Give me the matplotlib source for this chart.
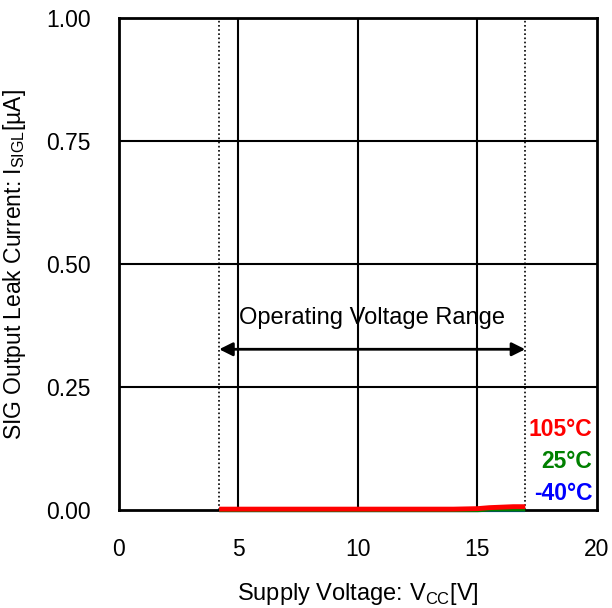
import matplotlib
matplotlib.use("Agg")
import matplotlib.pyplot as plt

plt.rcParams["font.family"] = ["Liberation Sans", "DejaVu Sans"]
plt.rcParams["mathtext.fontset"] = "custom"
plt.rcParams["mathtext.rm"] = "Liberation Sans"

# supply voltage points and leak current per temperature
vcc = [4.2, 6.0, 8.0, 10.0, 12.0, 14.0, 15.0, 15.5, 16.0, 16.5, 17.0]
i_n40 = [0.000, 0.000, 0.000, 0.000, 0.000, 0.000, 0.000, 0.000, 0.000, 0.000, 0.000]
i_25 = [0.000, 0.000, 0.000, 0.000, 0.000, 0.000, 0.000, 0.001, 0.001, 0.001, 0.001]
i_105 = [0.002, 0.002, 0.002, 0.002, 0.002, 0.002, 0.003, 0.005, 0.006, 0.007, 0.007]

temps = ["105°C", "25°C", "-40°C"]
temp_colors = ["#ff0000", "#008000", "#0000ff"]

vmin, vmax = 4.2, 17.0
x_ticks = [0, 5, 10, 15, 20]
y_ticks = [0.00, 0.25, 0.50, 0.75, 1.00]

fig = plt.figure(figsize=(6.12, 6.08), dpi=100)
ax = fig.add_axes([0.194, 0.161, 0.7815, 0.809])

ax.set_xlim(0, 20)
ax.set_ylim(0, 1)
ax.set_xticks(x_ticks)
ax.set_yticks(y_ticks)
ax.set_yticklabels([f"{v:.2f}" for v in y_ticks])
ax.tick_params(length=0, labelsize=16.5, pad=20)
for s in ax.spines.values():
    s.set_linewidth(2)

for x in x_ticks[1:-1]:
    ax.axvline(x, color="black", lw=1.5, zorder=1)
for y in y_ticks[1:-1]:
    ax.axhline(y, color="black", lw=1.5, zorder=1)

for v in (vmin, vmax):
    ax.axvline(v, color="black", lw=1.2, ls=(0, (1, 1.5)), zorder=1)

ax.plot(vcc, i_n40, color=temp_colors[2], lw=3, zorder=3,
        solid_capstyle="butt", clip_on=False)
ax.plot(vcc, i_25, color=temp_colors[1], lw=3, zorder=4,
        solid_capstyle="butt", clip_on=False)
ax.plot(vcc, i_105, color=temp_colors[0], lw=3.5, zorder=5,
        solid_capstyle="butt", clip_on=False)

ax.annotate("", xy=(vmin, 0.327), xytext=(vmax, 0.327),
            arrowprops=dict(arrowstyle="<|-|>", color="black", lw=2,
                            mutation_scale=20, shrinkA=0, shrinkB=0))
ax.text((vmin + vmax) / 2, 0.39, "Operating Voltage Range", ha="center",
        va="center", fontsize=17)

for i, (t, c) in enumerate(zip(temps, temp_colors)):
    ax.text(0.99, 0.163 - i * 0.0645, t, transform=ax.transAxes, ha="right",
            va="center", fontsize=16.5, fontweight="bold", color=c)

ax.set_xlabel(r"Supply Voltage: V$_{\mathregular{CC}}$[V]", fontsize=17)
ax.set_ylabel(r"SIG Output Leak Current: I$_{\mathregular{SIGL}}$[µA]", fontsize=16.5)
ax.xaxis.set_label_coords(0.5, -0.145)
ax.yaxis.set_label_coords(-0.19, 0.5)

fig.savefig("out.png", dpi=100)
